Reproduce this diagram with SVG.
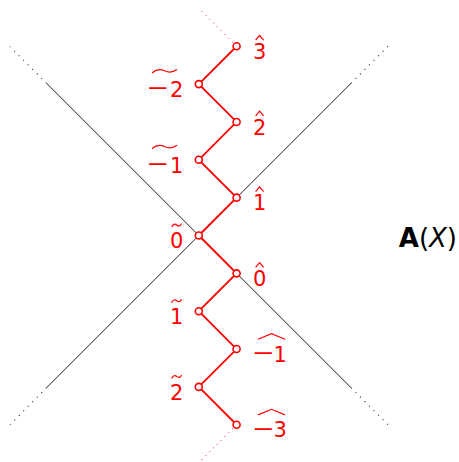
<svg xmlns="http://www.w3.org/2000/svg" width="459" height="462" viewBox="0 0 459 462">
<style>
.ax{stroke:#222;stroke-width:1;fill:none}
.axd{stroke:#333;stroke-width:1.2;fill:none;stroke-dasharray:1 5.4}
.rl{stroke:#f00;stroke-width:1.8;fill:none;stroke-linejoin:round}
.rd{stroke:#f00;stroke-width:1;fill:none;stroke-dasharray:1 4.4}
.nd{stroke:#f00;stroke-width:1.6;fill:#fff}
.lb{font-family:"DejaVu Sans",sans-serif;font-size:21px;fill:#f00}
.ac{stroke:#f00;stroke-width:1.2;fill:none}
.tt{font-family:"DejaVu Sans",sans-serif;font-size:26px;fill:#000}
</style>
<defs>
<path id="hat" class="ac" d="M-4,2.5L0,-2.2L4,2.5"/>
<path id="tld" class="ac" d="M-5,2C-3.5,-1 -1.5,-1.5 0,0S3.5,1.5 5,-1.5"/>
</defs>
<rect width="459" height="462" fill="#fff"/>
<g id="connectors">
<path class="ax" d="M46.6,83.3L351,387.7"/>
<path class="ax" d="M351,83.3L46.6,387.7"/>
<path class="axd" d="M46.6,83.3L10,46.7M351,387.7L388,424.7"/>
<path class="axd" d="M351,83.3L388,46.3M46.6,387.7L10,424.7"/>
<path class="rd" d="M236.6,46.25L200,9.6M236.6,424.75L200,461.4"/>
<path class="rl" d="M236.6,46.25L198.8,84.1L236.6,121.95L198.8,159.8L236.6,197.65L198.8,235.5L236.6,273.35L198.8,311.2L236.6,349.05L198.8,386.9L236.6,424.75"/>
</g>
<g id="n3h"><circle class="nd" cx="236.6" cy="46.25" r="3.5"/><text class="lb" x="253" y="59">3</text><use href="#hat" x="259.6" y="37.7"/></g>
<g id="nm2t"><circle class="nd" cx="198.8" cy="84.1" r="3.5"/><text class="lb" x="146.4" y="95.3" textLength="23" lengthAdjust="spacingAndGlyphs">&#8722;</text><text class="lb" x="170.1" y="96.8">2</text><path class="ac" d="M152,73C157,68.6 161.5,69.4 164.5,70.8S172,73.2 177,69.6"/></g>
<g id="n2h"><circle class="nd" cx="236.6" cy="121.95" r="3.5"/><text class="lb" x="253" y="134.7">2</text><use href="#hat" x="259.6" y="113.4"/></g>
<g id="nm1t"><circle class="nd" cx="198.8" cy="159.8" r="3.5"/><text class="lb" x="146.4" y="171" textLength="23" lengthAdjust="spacingAndGlyphs">&#8722;</text><text class="lb" x="170.1" y="172.5">1</text><path class="ac" d="M152,148.7C157,144.3 161.5,145.1 164.5,146.5S172,148.9 177,145.3"/></g>
<g id="n1h"><circle class="nd" cx="236.6" cy="197.65" r="3.5"/><text class="lb" x="253" y="210.4">1</text><use href="#hat" x="259.6" y="189.1"/></g>
<g id="n0t"><circle class="nd" cx="198.8" cy="235.5" r="3.5"/><text class="lb" x="170.1" y="248.2">0</text><use href="#tld" x="176.6" y="225"/></g>
<g id="n0h"><circle class="nd" cx="236.6" cy="273.35" r="3.5"/><text class="lb" x="253" y="286.1">0</text><use href="#hat" x="259.6" y="264.8"/></g>
<g id="n1t"><circle class="nd" cx="198.8" cy="311.2" r="3.5"/><text class="lb" x="170.1" y="323.9">1</text><use href="#tld" x="176.6" y="300.7"/></g>
<g id="nm1h"><circle class="nd" cx="236.6" cy="349.05" r="3.5"/><text class="lb" x="252.1" y="360.2" textLength="23" lengthAdjust="spacingAndGlyphs">&#8722;</text><text class="lb" x="273.6" y="361.7">1</text><path class="ac" d="M258,339.2L271.5,333.6L285,339.2"/></g>
<g id="n2t"><circle class="nd" cx="198.8" cy="386.9" r="3.5"/><text class="lb" x="170.1" y="399.6">2</text><use href="#tld" x="176.6" y="376.4"/></g>
<g id="nm3h"><circle class="nd" cx="236.6" cy="424.75" r="3.5"/><text class="lb" x="252.1" y="435.9" textLength="23" lengthAdjust="spacingAndGlyphs">&#8722;</text><text class="lb" x="273.6" y="437.4">3</text><path class="ac" d="M258,414.9L271.5,409.3L285,414.9"/></g>
<g id="title"><text class="tt" x="457" y="247" text-anchor="end"><tspan font-weight="bold">A</tspan>(<tspan font-style="italic">X</tspan>)</text></g>
</svg>
